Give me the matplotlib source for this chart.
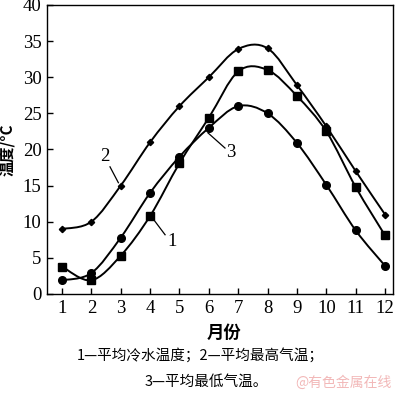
import matplotlib
matplotlib.use("Agg")
import matplotlib.pyplot as plt
from matplotlib.path import Path
from matplotlib.patches import PathPatch
import numpy as np

months = [1, 2, 3, 4, 5, 6, 7, 8, 9, 10, 11, 12]
cooling_water = [3.8, 1.9, 5.3, 10.8, 18.1, 24.4, 30.8, 31.0, 27.4, 22.5, 14.8, 8.1]
max_air = [9.0, 10.0, 15.0, 21.0, 26.0, 30.0, 33.9, 34.0, 28.9, 23.2, 17.0, 11.0]
min_air = [1.9, 2.9, 7.8, 14.0, 19.0, 23.0, 26.0, 25.0, 20.9, 15.1, 8.8, 3.9]
yticks = [0, 5, 10, 15, 20, 25, 30, 35, 40]

serif = ['Liberation Serif', 'DejaVu Serif']
cjk = ['Noto Sans CJK SC', 'DejaVu Sans']


def smooth_path(x, y):
    x = np.asarray(x, float)
    y = np.asarray(y, float)
    n = len(x)
    verts = [(x[0], y[0])]
    codes = [Path.MOVETO]
    for i in range(n - 1):
        p0 = np.array([x[max(i - 1, 0)], y[max(i - 1, 0)]])
        p1 = np.array([x[i], y[i]])
        p2 = np.array([x[i + 1], y[i + 1]])
        p3 = np.array([x[min(i + 2, n - 1)], y[min(i + 2, n - 1)]])
        c1 = p1 + (p2 - p0) / 6.0
        c2 = p2 - (p3 - p1) / 6.0
        verts += [tuple(c1), tuple(c2), tuple(p2)]
        codes += [Path.CURVE4, Path.CURVE4, Path.CURVE4]
    return Path(verts, codes)


fig = plt.figure(figsize=(4.0, 3.96), dpi=100)
ax = fig.add_axes([0.1175, 0.2576, 0.865, 0.7298])

for data, marker, ms in [(cooling_water, 's', 5.5), (max_air, 'D', 3.2), (min_air, 'o', 5.5)]:
    ax.add_patch(PathPatch(smooth_path(months, data), fill=False, lw=1.4,
                           edgecolor='black', transform=ax.transData))
    ax.plot(months, data, linestyle='none', marker=marker, ms=ms, color='black')

ax.set_xlim(0.49, 12.27)
ax.set_ylim(0, 40)
ax.set_xticks(months)
ax.set_yticks(yticks)
ax.tick_params(direction='in', length=4, width=1, labelsize=13.5, pad=4)
for lab in ax.get_xticklabels() + ax.get_yticklabels():
    lab.set_fontfamily(serif)
for s in ax.spines.values():
    s.set_linewidth(1.0)

# curve labels with leader lines
labels = [('2', (2.635, 17.6), (2.92, 15.4), (2.46, 19.0)),
          ('1', (4.065, 10.6), (4.51, 8.2), (4.75, 7.2)),
          ('3', (5.97, 22.3), (6.55, 20.2), (6.75, 19.6))]
for txt, p_start, p_end, p_txt in labels:
    ax.plot([p_start[0], p_end[0]], [p_start[1], p_end[1]], color='black', lw=0.9)
    ax.text(p_txt[0], p_txt[1], txt, fontsize=13.5, family=serif, ha='center', va='center')

fig.text(7 / 400, 1 - 150 / 396, '温度/°C', rotation=90, ha='center', va='center',
         fontsize=11, fontweight='bold', family=cjk)
fig.text(224 / 400, 1 - 333 / 396, '月份', ha='center', va='center',
         fontsize=12.5, fontweight='bold', family=cjk)
fig.text(200 / 400, 1 - 355 / 396, '1—平均冷水温度；2—平均最高气温；', ha='center', va='center',
         fontsize=10.5, family=cjk)
fig.text(206 / 400, 1 - 382 / 396, '3—平均最低气温。', ha='center', va='center',
         fontsize=10.5, family=cjk)
fig.text(343 / 400, 1 - 383 / 396, '@有色金属在线', ha='center', va='center',
         fontsize=10, color='#f2b8b8', family=cjk)

fig.savefig('out.png', dpi=100)
